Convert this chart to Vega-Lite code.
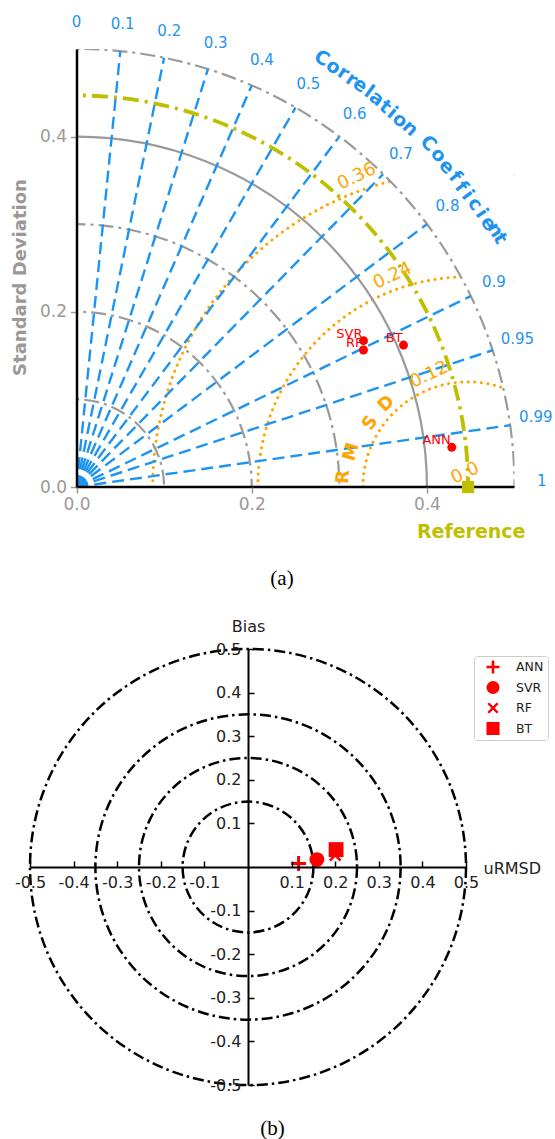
{
  "$schema": "https://vega.github.io/schema/vega-lite/v6.json",
  "padding": {"left": 11, "top": 14, "right": 0, "bottom": 0},
  "config": {
    "view": {"stroke": null},
    "font": "DejaVu Sans"
  },
  "columns": 1,
  "spacing": 29,
  "resolve": {"scale": {"shape": "independent", "size": "independent"}, "legend": {"shape": "independent", "size": "independent"}},
  "concat": [
    {
      "width": 484.5,
      "height": 438,
      "title": {"text": "(a)", "orient": "bottom", "font": "Liberation Serif", "fontSize": 21, "fontWeight": "normal", "color": "black", "offset": 27, "anchor": "middle", "frame": "bounds"},
      "layer": [
        {
          "data": {"values": [{"cx": 0.447, "cy": 0, "r": 0.12}, {"cx": 0.447, "cy": 0, "r": 0.24}, {"cx": 0.447, "cy": 0, "r": 0.36}]},
          "mark": {"type": "point", "shape": "circle", "filled": false, "opacity": 1, "stroke": "#FFA500", "strokeWidth": 3, "strokeDash": [0.1, 6.5], "strokeCap": "round", "clip": true},
          "encoding": {
            "x": {"field": "cx", "type": "quantitative", "scale": {"domain": [-0.0531, 0.5], "nice": false}},
            "y": {"field": "cy", "type": "quantitative", "scale": {"domain": [0, 0.5], "nice": false}},
            "size": {"field": "r", "type": "quantitative", "legend": null, "scale": {"type": "pow", "exponent": 2, "domain": [0, 0.5], "range": [0, 767376], "zero": true}}
          }
        },
        {
          "data": {"values": [{"cx": 0, "cy": 0, "r": 0.61}]},
          "mark": {"type": "point", "shape": "circle", "filled": false, "opacity": 1, "stroke": "white", "strokeWidth": 193, "clip": true},
          "encoding": {
            "x": {"field": "cx", "type": "quantitative", "scale": {"domain": [-0.0531, 0.5], "nice": false}},
            "y": {"field": "cy", "type": "quantitative", "scale": {"domain": [0, 0.5], "nice": false}},
            "size": {"field": "r", "type": "quantitative", "legend": null, "scale": {"type": "pow", "exponent": 2, "domain": [0, 0.5], "range": [0, 767376], "zero": true}}
          }
        },
        {
          "data": {"values": [{"cx": 0, "cy": 0, "s": 0.1}, {"cx": 0, "cy": 0, "s": 0.2}, {"cx": 0, "cy": 0, "s": 0.3}, {"cx": 0, "cy": 0, "s": 0.5}]},
          "mark": {"type": "point", "shape": "circle", "filled": false, "opacity": 1, "stroke": "#9a9a9a", "strokeWidth": 2.2, "strokeDash": [15, 5, 3, 5], "clip": true},
          "encoding": {
            "x": {"field": "cx", "type": "quantitative", "scale": {"domain": [-0.0531, 0.5], "nice": false}},
            "y": {"field": "cy", "type": "quantitative", "scale": {"domain": [0, 0.5], "nice": false}},
            "size": {"field": "s", "type": "quantitative", "legend": null, "scale": {"type": "pow", "exponent": 2, "domain": [0, 0.5], "range": [0, 767376], "zero": true}}
          }
        },
        {
          "data": {"values": [{"cx": 0, "cy": 0, "s": 0.4}]},
          "mark": {"type": "point", "shape": "circle", "filled": false, "opacity": 1, "stroke": "#9a9a9a", "strokeWidth": 2.2, "clip": true},
          "encoding": {
            "x": {"field": "cx", "type": "quantitative", "scale": {"domain": [-0.0531, 0.5], "nice": false}},
            "y": {"field": "cy", "type": "quantitative", "scale": {"domain": [0, 0.5], "nice": false}},
            "size": {"field": "s", "type": "quantitative", "legend": null, "scale": {"type": "pow", "exponent": 2, "domain": [0, 0.5], "range": [0, 767376], "zero": true}}
          }
        },
        {
          "data": {"values": [
            {"c": 0.1, "x0": 0, "y0": 0, "xe": 0.05, "ye": 0.4975},
            {"c": 0.2, "x0": 0, "y0": 0, "xe": 0.1, "ye": 0.4899},
            {"c": 0.3, "x0": 0, "y0": 0, "xe": 0.15, "ye": 0.477},
            {"c": 0.4, "x0": 0, "y0": 0, "xe": 0.2, "ye": 0.4583},
            {"c": 0.5, "x0": 0, "y0": 0, "xe": 0.25, "ye": 0.433},
            {"c": 0.6, "x0": 0, "y0": 0, "xe": 0.3, "ye": 0.4},
            {"c": 0.7, "x0": 0, "y0": 0, "xe": 0.35, "ye": 0.3571},
            {"c": 0.8, "x0": 0, "y0": 0, "xe": 0.4, "ye": 0.3},
            {"c": 0.9, "x0": 0, "y0": 0, "xe": 0.45, "ye": 0.2179},
            {"c": 0.95, "x0": 0, "y0": 0, "xe": 0.475, "ye": 0.1561},
            {"c": 0.99, "x0": 0, "y0": 0, "xe": 0.495, "ye": 0.0705}
          ]},
          "mark": {"type": "rule", "stroke": "#1E94F0", "strokeWidth": 2.4, "strokeDash": [12, 6]},
          "encoding": {
            "x": {"field": "x0", "type": "quantitative", "scale": {"domain": [-0.0531, 0.5], "nice": false}},
            "y": {"field": "y0", "type": "quantitative", "scale": {"domain": [0, 0.5], "nice": false}},
            "x2": {"field": "xe"},
            "y2": {"field": "ye"}
          }
        },
        {
          "data": {"values": [{"cx": 0, "cy": 0, "s": 0.447}]},
          "mark": {"type": "point", "shape": "circle", "filled": false, "opacity": 1, "stroke": "#BFBF00", "strokeWidth": 3.8, "strokeDash": [16, 6, 3, 6], "clip": true},
          "encoding": {
            "x": {"field": "cx", "type": "quantitative", "scale": {"domain": [-0.0531, 0.5], "nice": false}},
            "y": {"field": "cy", "type": "quantitative", "scale": {"domain": [0, 0.5], "nice": false}},
            "size": {"field": "s", "type": "quantitative", "legend": null, "scale": {"type": "pow", "exponent": 2, "domain": [0, 0.5], "range": [0, 767376], "zero": true}}
          }
        },
        {
          "data": {"values": [{"xa": -0.0531, "xb": 0, "ya": 0, "yb": 0.5}]},
          "mark": {"type": "rect", "fill": "white", "opacity": 1, "clip": true},
          "encoding": {
            "x": {"field": "xa", "type": "quantitative", "scale": {"domain": [-0.0531, 0.5], "nice": false}},
            "x2": {"field": "xb"},
            "y": {"field": "ya", "type": "quantitative", "scale": {"domain": [0, 0.5], "nice": false}},
            "y2": {"field": "yb"}
          }
        },
        {
          "data": {"values": [{"xa": 0, "xb": 0.5, "ya": 0}]},
          "mark": {"type": "rule", "stroke": "black", "strokeWidth": 2.5},
          "encoding": {
            "x": {"field": "xa", "type": "quantitative", "scale": {"domain": [-0.0531, 0.5], "nice": false}},
            "x2": {"field": "xb"},
            "y": {"field": "ya", "type": "quantitative", "scale": {"domain": [0, 0.5], "nice": false}}
          }
        },
        {
          "data": {"values": [
            {"t": "0", "x": 0, "y": 0.531}, {"t": "0.1", "x": 0.0527, "y": 0.5284}, {"t": "0.2", "x": 0.1059, "y": 0.5203},
            {"t": "0.3", "x": 0.1588, "y": 0.5067}, {"t": "0.4", "x": 0.2117, "y": 0.4869}, {"t": "0.5", "x": 0.2647, "y": 0.4603},
            {"t": "0.6", "x": 0.3174, "y": 0.4257}, {"t": "0.7", "x": 0.3702, "y": 0.3807}, {"t": "0.8", "x": 0.4235, "y": 0.3203},
            {"t": "0.9", "x": 0.4764, "y": 0.2344}, {"t": "0.95", "x": 0.5033, "y": 0.1694}, {"t": "0.99", "x": 0.5243, "y": 0.0803},
            {"t": "1", "x": 0.531, "y": 0.0065}
          ]},
          "mark": {"type": "text", "color": "#1E94F0", "fontSize": 15, "align": "center", "baseline": "middle"},
          "encoding": {
            "x": {"field": "x", "type": "quantitative", "scale": {"domain": [-0.0531, 0.5], "nice": false}},
            "y": {"field": "y", "type": "quantitative", "scale": {"domain": [0, 0.5], "nice": false}},
            "text": {"field": "t", "type": "nominal"}
          }
        },
        {
          "data": {"values": [
            {"ch": "C", "x": 0.28, "y": 0.4894, "a": 60.22}, {"ch": "o", "x": 0.2934, "y": 0.4798, "a": 58.55},
            {"ch": "r", "x": 0.3048, "y": 0.4729, "a": 57.2}, {"ch": "r", "x": 0.3143, "y": 0.4654, "a": 55.97},
            {"ch": "e", "x": 0.3239, "y": 0.4589, "a": 54.79}, {"ch": "l", "x": 0.3341, "y": 0.4513, "a": 53.49},
            {"ch": "a", "x": 0.3428, "y": 0.4437, "a": 52.31}, {"ch": "t", "x": 0.3524, "y": 0.4341, "a": 50.93},
            {"ch": "i", "x": 0.3607, "y": 0.4273, "a": 49.83}, {"ch": "o", "x": 0.3695, "y": 0.4189, "a": 48.59},
            {"ch": "n", "x": 0.3809, "y": 0.4095, "a": 47.06},
            {"ch": "C", "x": 0.4018, "y": 0.3924, "a": 44.31}, {"ch": "o", "x": 0.4132, "y": 0.379, "a": 42.53},
            {"ch": "e", "x": 0.4227, "y": 0.3656, "a": 40.86}, {"ch": "f", "x": 0.4323, "y": 0.3542, "a": 39.33},
            {"ch": "f", "x": 0.4392, "y": 0.3428, "a": 37.98}, {"ch": "i", "x": 0.4467, "y": 0.3333, "a": 36.73},
            {"ch": "c", "x": 0.4551, "y": 0.3231, "a": 35.36}, {"ch": "i", "x": 0.4627, "y": 0.3124, "a": 34.03},
            {"ch": "e", "x": 0.4703, "y": 0.301, "a": 32.62}, {"ch": "n", "x": 0.478, "y": 0.2934, "a": 31.54},
            {"ch": "t", "x": 0.4837, "y": 0.2839, "a": 30.41}
          ]},
          "mark": {"type": "text", "color": "#1E94F0", "fontSize": 19, "fontWeight": "bold", "align": "center", "baseline": "middle"},
          "encoding": {
            "x": {"field": "x", "type": "quantitative", "scale": {"domain": [-0.0531, 0.5], "nice": false}},
            "y": {"field": "y", "type": "quantitative", "scale": {"domain": [0, 0.5], "nice": false}},
            "angle": {"field": "a", "type": "quantitative", "scale": {"type": "linear", "domain": [0, 90], "range": [90, 0], "zero": false, "nice": false}},
            "text": {"field": "ch", "type": "nominal"}
          }
        },
        {
          "data": {"values": [
            {"t": "0.0", "x": 0.4437, "y": 0.0156}, {"t": "0.12", "x": 0.4026, "y": 0.1279},
            {"t": "0.24", "x": 0.3607, "y": 0.2409}, {"t": "0.36", "x": 0.32, "y": 0.3542}
          ]},
          "mark": {"type": "text", "color": "#FFA500", "fontSize": 18, "align": "center", "baseline": "middle", "angle": 335},
          "encoding": {
            "x": {"field": "x", "type": "quantitative", "scale": {"domain": [-0.0531, 0.5], "nice": false}},
            "y": {"field": "y", "type": "quantitative", "scale": {"domain": [0, 0.5], "nice": false}},
            "text": {"field": "t", "type": "nominal"}
          }
        },
        {
          "data": {"values": [
            {"ch": "R", "x": 0.3048, "y": 0.0114, "a": 175.4},
            {"ch": "M", "x": 0.3139, "y": 0.04, "a": 163.3},
            {"ch": "S", "x": 0.3356, "y": 0.0731, "a": 146.7},
            {"ch": "D", "x": 0.3539, "y": 0.0947, "a": 134.5}
          ]},
          "mark": {"type": "text", "color": "#FFA500", "fontSize": 18, "fontWeight": "bold", "align": "center", "baseline": "middle"},
          "encoding": {
            "x": {"field": "x", "type": "quantitative", "scale": {"domain": [-0.0531, 0.5], "nice": false}},
            "y": {"field": "y", "type": "quantitative", "scale": {"domain": [0, 0.5], "nice": false}},
            "angle": {"field": "a", "type": "quantitative", "scale": {"type": "linear", "domain": [0, 90], "range": [90, 0], "zero": false, "nice": false}},
            "text": {"field": "ch", "type": "nominal"}
          }
        },
        {
          "data": {"values": [{"x": 0.447, "y": 0}]},
          "mark": {"type": "point", "shape": "square", "filled": true, "color": "#BFBF00", "size": 150, "opacity": 1},
          "encoding": {
            "x": {"field": "x", "type": "quantitative", "scale": {"domain": [-0.0531, 0.5], "nice": false}},
            "y": {"field": "y", "type": "quantitative", "scale": {"domain": [0, 0.5], "nice": false}}
          }
        },
        {
          "data": {"values": [
            {"m": "ANN", "x": 0.4284, "y": 0.0453},
            {"m": "SVR", "x": 0.3276, "y": 0.167},
            {"m": "RF", "x": 0.3276, "y": 0.1564},
            {"m": "BT", "x": 0.3733, "y": 0.162}
          ]},
          "mark": {"type": "point", "shape": "circle", "filled": true, "color": "#FF0000", "size": 80, "opacity": 1},
          "encoding": {
            "x": {"field": "x", "type": "quantitative", "scale": {"domain": [-0.0531, 0.5], "nice": false},
              "axis": {"values": [0, 0.2, 0.4], "format": ".1f", "grid": false, "domain": false,
                "tickColor": "#999999", "tickSize": 6, "tickWidth": 1.5, "labelColor": "#999999", "labelFontSize": 17,
                "labelPadding": 3, "labelFlush": false, "labelOverlap": false,
                "title": "Reference", "titleColor": "#BFBF00", "titleFontSize": 19, "titleFontWeight": "bold",
                "titleX": 495, "titleAlign": "right", "titlePadding": 10, "zindex": 1}},
            "y": {"field": "y", "type": "quantitative", "scale": {"domain": [0, 0.5], "nice": false},
              "axis": {"values": [0, 0.2, 0.4], "format": ".1f", "grid": false, "domainColor": "black", "domainWidth": 2.5,
                "offset": -46.5,
                "tickColor": "#999999", "tickSize": 6, "tickWidth": 1.5, "labelColor": "#999999", "labelFontSize": 17,
                "labelPadding": 4, "labelFlush": false, "labelOverlap": false,
                "title": "Standard Deviation", "titleColor": "#999999", "titleFontSize": 18, "titleFontWeight": "bold",
                "titlePadding": 10, "titleY": 228, "zindex": 1}}
          }
        },
        {
          "data": {"values": [
            {"m": "ANN", "x": 0.4284, "y": 0.0453},
            {"m": "SVR", "x": 0.3276, "y": 0.167},
            {"m": "RF", "x": 0.3276, "y": 0.1564},
            {"m": "BT", "x": 0.3733, "y": 0.162}
          ]},
          "mark": {"type": "text", "color": "#FF0000", "fontSize": 13, "align": "right", "baseline": "bottom", "dx": -1, "dy": 0},
          "encoding": {
            "x": {"field": "x", "type": "quantitative", "scale": {"domain": [-0.0531, 0.5], "nice": false}},
            "y": {"field": "y", "type": "quantitative", "scale": {"domain": [0, 0.5], "nice": false}},
            "text": {"field": "m", "type": "nominal"}
          }
        }
      ]
    },
    {
      "width": 436,
      "height": 436,
      "title": {"text": "(b)", "orient": "bottom", "font": "Liberation Serif", "fontSize": 21, "fontWeight": "normal", "color": "black", "offset": 25, "anchor": "middle", "frame": "bounds", "dx": -9},
      "layer": [
        {
          "data": {"values": [{"cx": 0, "cy": 0, "r": 0.15}, {"cx": 0, "cy": 0, "r": 0.25}, {"cx": 0, "cy": 0, "r": 0.35}, {"cx": 0, "cy": 0, "r": 0.5}]},
          "mark": {"type": "point", "shape": "circle", "filled": false, "opacity": 1, "stroke": "black", "strokeWidth": 2.5, "strokeDash": [11, 4, 2.5, 4]},
          "encoding": {
            "x": {"field": "cx", "type": "quantitative", "scale": {"domain": [-0.5, 0.5], "nice": false}},
            "y": {"field": "cy", "type": "quantitative", "scale": {"domain": [-0.5, 0.5], "nice": false}},
            "size": {"field": "r", "type": "quantitative", "legend": null, "scale": {"type": "pow", "exponent": 2, "domain": [0, 0.5], "range": [0, 190096], "zero": true}}
          }
        },
        {
          "data": {"values": [
            {"m": "ANN", "u": 0.116, "b": 0.008},
            {"m": "SVR", "u": 0.158, "b": 0.017},
            {"m": "RF", "u": 0.2, "b": 0.027},
            {"m": "BT", "u": 0.202, "b": 0.04}
          ]},
          "mark": {"type": "point", "filled": true, "color": "#FF0000", "size": 220, "opacity": 1, "strokeWidth": 0},
          "encoding": {
            "x": {"field": "u", "type": "quantitative", "scale": {"domain": [-0.5, 0.5], "nice": false},
              "axis": {"values": [-0.5, -0.4, -0.3, -0.2, -0.1, 0.1, 0.2, 0.3, 0.4, 0.5], "format": ".1f", "offset": -218,
                "labelExpr": "replace(datum.label, '−', '-')",
                "grid": false, "domainColor": "black", "domainWidth": 2, "tickColor": "black", "tickSize": -6, "tickWidth": 1.5,
                "labelColor": "#222222", "labelFontSize": 16, "labelPadding": 13, "labelFlush": false, "labelOverlap": false,
                "title": "uRMSD", "titleX": 453, "titleY": 1, "titleAlign": "left", "titleBaseline": "middle",
                "titleFontSize": 16, "titleFontWeight": "normal", "titleColor": "#222222", "zindex": 1}},
            "y": {"field": "b", "type": "quantitative", "scale": {"domain": [-0.5, 0.5], "nice": false},
              "axis": {"values": [-0.5, -0.4, -0.3, -0.2, -0.1, 0.1, 0.2, 0.3, 0.4, 0.5], "format": ".1f", "offset": -218,
                "labelExpr": "replace(datum.label, '−', '-')",
                "grid": false, "domainColor": "black", "domainWidth": 2, "tickColor": "black", "tickSize": -6, "tickWidth": 1.5,
                "labelColor": "#222222", "labelFontSize": 16, "labelPadding": 13, "labelFlush": false, "labelOverlap": false,
                "title": "Bias", "titleAngle": 0, "titleX": 0, "titleY": -18, "titleAlign": "center", "titleBaseline": "alphabetic",
                "titleFontSize": 16, "titleFontWeight": "normal", "titleColor": "#222222", "zindex": 1}},
            "shape": {"field": "m", "type": "nominal",
              "scale": {"domain": ["ANN", "SVR", "RF", "BT"],
                "range": ["M-0.2,-1H0.2V-0.2H1V0.2H0.2V1H-0.2V0.2H-1V-0.2H-0.2Z", "circle",
                  "M-0.85,-0.6L-0.6,-0.85L0,-0.25L0.6,-0.85L0.85,-0.6L0.25,0L0.85,0.6L0.6,0.85L0,0.25L-0.6,0.85L-0.85,0.6L-0.25,0Z", "square"]},
              "legend": {"orient": "none", "legendX": 444, "legendY": 7, "title": null, "padding": 4, "strokeColor": "#cccccc",
                "cornerRadius": 3, "fillColor": "white", "labelFontSize": 12.5, "labelColor": "#222222", "symbolSize": 170,
                "symbolFillColor": "#FF0000", "symbolStrokeWidth": 0, "symbolOffset": 8, "labelOffset": 16, "rowPadding": 6.5}}
          }
        }
      ]
    }
  ]
}
